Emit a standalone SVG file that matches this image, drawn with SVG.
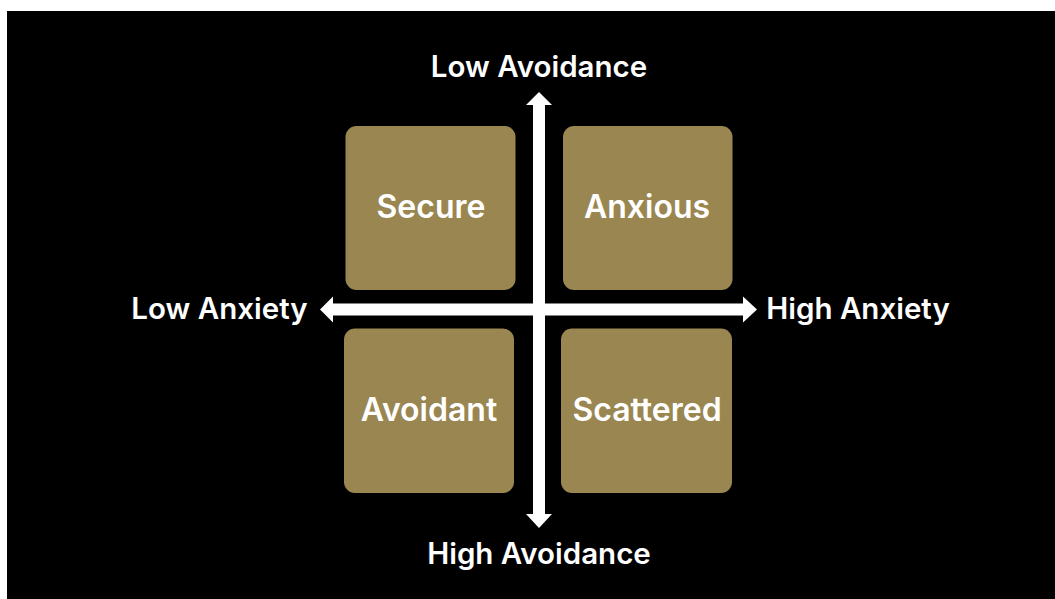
<svg xmlns="http://www.w3.org/2000/svg" width="1055" height="599" viewBox="0 0 1055 599">
<style>
.box{fill:#9A8651;}
.lbl{font-family:Inter,"Liberation Sans",sans-serif;font-weight:600;font-size:29.5px;fill:#ffffff;text-anchor:middle;}
.nl{font-size:32px;}
.ax{fill:#ffffff;}
</style>
<rect x="0" y="0" width="1055" height="599" fill="#ffffff"/>
<rect x="7" y="11" width="1048" height="588" fill="#000000"/>
<g id="node-secure"><rect class="box" x="345.5" y="126" width="170" height="164" rx="11"/><text class="lbl nl" x="431" y="218">Secure</text></g>
<g id="node-anxious"><rect class="box" x="563" y="126" width="169.5" height="164" rx="11"/><text class="lbl nl" x="647" y="218">Anxious</text></g>
<g id="node-avoidant"><rect class="box" x="344" y="328.5" width="170" height="164.5" rx="11"/><text class="lbl nl" x="429" y="421">Avoidant</text></g>
<g id="node-scattered"><rect class="box" x="561" y="328.5" width="171" height="164.5" rx="11"/><text class="lbl nl" x="647" y="421">Scattered</text></g>
<g id="connectors">
<rect class="ax" x="533" y="104" width="12" height="411"/>
<polygon class="ax" points="539,92 552,105 526,105"/>
<polygon class="ax" points="539,528 552,514 526,514"/>
<rect class="ax" x="332" y="303.5" width="412" height="12"/>
<polygon class="ax" points="320,309.5 333,296.5 333,322.5"/>
<polygon class="ax" points="757,309.5 743,296.5 743,322.5"/>
</g>
<g id="axis-labels">
<text class="lbl" x="539" y="77">Low Avoidance</text>
<text class="lbl" x="539" y="563.5">High Avoidance</text>
<text class="lbl" x="219.5" y="319">Low Anxiety</text>
<text class="lbl" x="858" y="319">High Anxiety</text>
</g>
</svg>
